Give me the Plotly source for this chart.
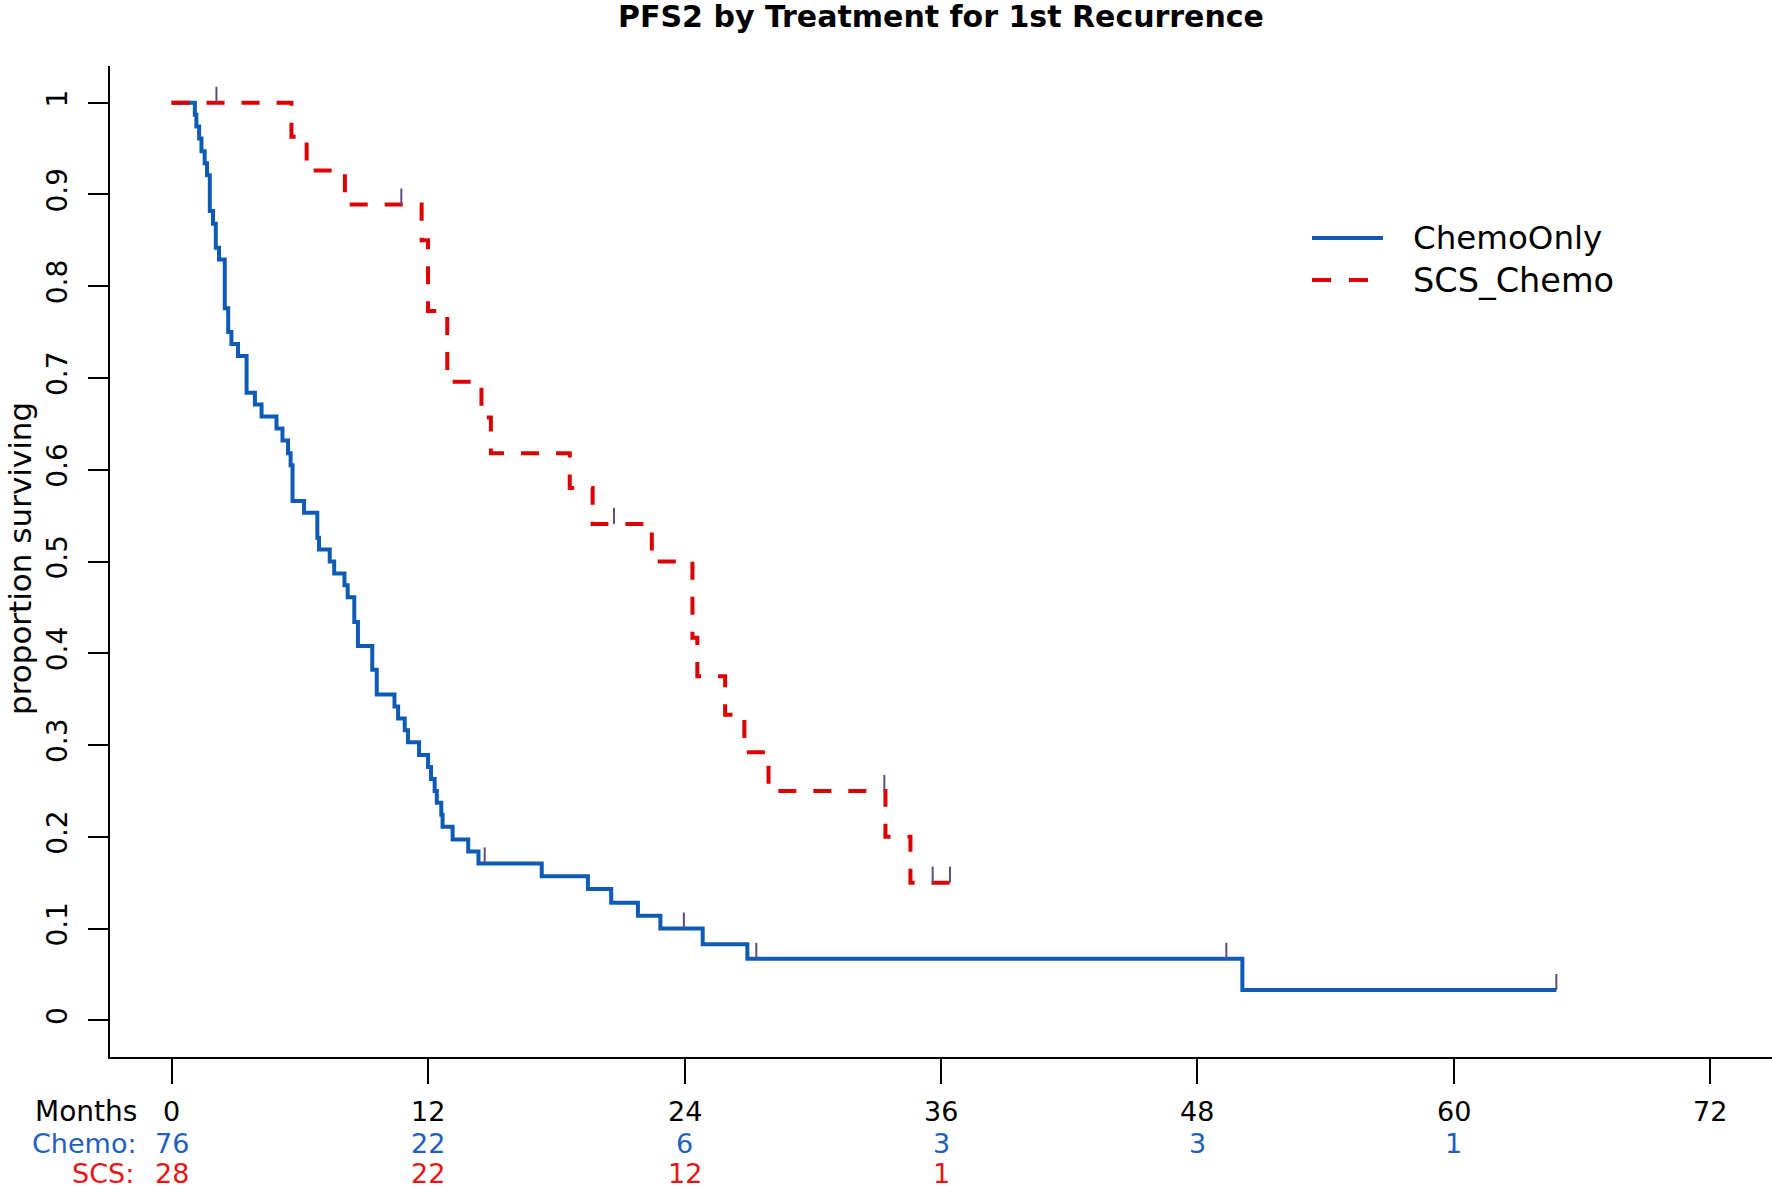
import plotly.graph_objects as go

# ---------------- data ----------------
# Kaplan-Meier steps: time (months) of each drop and survival level after it
CHEMO_T = [0, 1.09, 1.16, 1.29, 1.40, 1.55, 1.66, 1.79, 1.94, 2.07, 2.22, 2.49, 2.65,
           2.80, 3.11, 3.51, 3.90, 4.21, 4.91, 5.19, 5.45, 5.57, 5.66, 6.20, 6.82,
           6.90, 7.40, 7.61, 8.09, 8.24, 8.55, 8.72, 9.39, 9.60, 10.43, 10.60, 10.91,
           11.06, 11.58, 12.00, 12.14, 12.31, 12.41, 12.62, 12.68, 13.15, 13.88,
           14.36, 17.32, 19.48, 20.57, 21.82, 22.87, 24.85, 26.94, 50.10, 64.79]
CHEMO_S = [1.0, 0.987, 0.974, 0.961, 0.947, 0.934, 0.921, 0.882, 0.868, 0.842, 0.829,
           0.776, 0.750, 0.737, 0.724, 0.684, 0.671, 0.658, 0.645, 0.632, 0.618, 0.605,
           0.566, 0.553, 0.526, 0.513, 0.500, 0.487, 0.474, 0.461, 0.434, 0.408, 0.382,
           0.355, 0.342, 0.329, 0.316, 0.303, 0.289, 0.276, 0.263, 0.250, 0.237, 0.224,
           0.211, 0.197, 0.184, 0.171, 0.157, 0.143, 0.128, 0.114, 0.100, 0.083, 0.067,
           0.033, 0.033]

SCS_T = [0, 5.61, 6.32, 8.11, 11.70, 12.00, 12.90, 14.50, 14.94, 18.63, 19.70, 22.47,
         24.37, 24.60, 25.90, 26.80, 27.93, 33.40, 34.57, 36.55]
SCS_S = [1.0, 0.963, 0.926, 0.889, 0.850, 0.773, 0.696, 0.657, 0.618, 0.580, 0.541,
         0.500, 0.417, 0.375, 0.333, 0.292, 0.250, 0.200, 0.150, 0.150]

# censoring marks
CHEMO_CENS_T = [14.65, 23.97, 27.36, 49.35, 64.79]
CHEMO_CENS_S = [0.171, 0.100, 0.067, 0.067, 0.033]
SCS_CENS_T = [2.10, 10.75, 20.70, 33.35, 35.61, 36.42]
SCS_CENS_S = [1.0, 0.889, 0.541, 0.250, 0.150, 0.150]

# axis ticks
X_TICKS = [0, 12, 24, 36, 48, 60, 72]
Y_TICKS = [0, 0.1, 0.2, 0.3, 0.4, 0.5, 0.6, 0.7, 0.8, 0.9, 1.0]
Y_LABELS = ["0", "0.1", "0.2", "0.3", "0.4", "0.5", "0.6", "0.7", "0.8", "0.9", "1"]

# number at risk table
RISK_CHEMO_T = [0, 12, 24, 36, 48, 60]
RISK_CHEMO_N = [76, 22, 6, 3, 3, 1]
RISK_SCS_T = [0, 12, 24, 36]
RISK_SCS_N = [28, 22, 12, 1]

SERIES_NAMES = ["ChemoOnly", "SCS_Chemo"]
TITLE = "PFS2 by Treatment for 1st Recurrence"
Y_TITLE = "proportion surviving"

# ---------------- styling ----------------
W, H = 1772, 1188
ML, MR, MT, MB = 110, 0, 66, 131
PW, PH = W - ML - MR, H - MT - MB
FONT = "DejaVu Sans"
BLUE = "#0d5bb5"
RED = "#dd0000"
BLUE_TXT = "#1f5fc0"
RED_TXT = "#e81515"
MARK_COL = "#5d4b85"
DASH = "18px,17px"
XR = [-2.88, 74.88]
YR = [-0.04, 1.04]
MARK_LEN = 16 / PH * (YR[1] - YR[0])


def px(x):
    return (x - ML) / PW


def py(y):
    return (H - MB - y) / PH


fig = go.Figure()
fig.add_trace(go.Scatter(x=CHEMO_T, y=CHEMO_S, mode="lines",
                         line=dict(shape="hv", color=BLUE, width=4),
                         name=SERIES_NAMES[0], showlegend=False, hoverinfo="skip"))
fig.add_trace(go.Scatter(x=SCS_T, y=SCS_S, mode="lines",
                         line=dict(shape="hv", color=RED, width=4, dash=DASH),
                         name=SERIES_NAMES[1], showlegend=False, hoverinfo="skip"))
for ct, cs in ((CHEMO_CENS_T, CHEMO_CENS_S), (SCS_CENS_T, SCS_CENS_S)):
    fig.add_trace(go.Scatter(
        x=ct, y=cs, mode="markers",
        marker=dict(size=1, color="rgba(0,0,0,0)"),
        error_y=dict(type="data", symmetric=False, array=[MARK_LEN] * len(ct),
                     arrayminus=[0] * len(ct), width=0, thickness=2, color=MARK_COL),
        showlegend=False, hoverinfo="skip"))

annotations = []
# title
annotations.append(dict(text="<b>%s</b>" % TITLE, x=0.5, y=py(16), xref="paper", yref="paper",
                        xanchor="center", yanchor="middle", showarrow=False,
                        font=dict(family=FONT, size=30, color="black")))
# y title
annotations.append(dict(text=Y_TITLE, x=px(20), y=py(559), xref="paper", yref="paper",
                        xanchor="center", yanchor="middle", textangle=-90, showarrow=False,
                        font=dict(family=FONT, size=31, color="black")))
# risk table
ROW_Y = [1111, 1143, 1173]
annotations.append(dict(text="Months", x=px(139), y=py(ROW_Y[0]), xref="paper", yref="paper",
                        xanchor="right", yanchor="middle", showarrow=False,
                        font=dict(family=FONT, size=28, color="black")))
annotations.append(dict(text="Chemo:", x=px(139), y=py(ROW_Y[1]), xref="paper", yref="paper",
                        xanchor="right", yanchor="middle", showarrow=False,
                        font=dict(family=FONT, size=27, color=BLUE_TXT)))
annotations.append(dict(text="SCS:", x=px(136), y=py(ROW_Y[2]), xref="paper", yref="paper",
                        xanchor="right", yanchor="middle", showarrow=False,
                        font=dict(family=FONT, size=27, color=RED_TXT)))
for t in X_TICKS:
    annotations.append(dict(text=str(t), x=t, y=py(ROW_Y[0]), xref="x", yref="paper",
                            xanchor="center", yanchor="middle", showarrow=False,
                            font=dict(family=FONT, size=27, color="black")))
for t, n in zip(RISK_CHEMO_T, RISK_CHEMO_N):
    annotations.append(dict(text=str(n), x=t, y=py(ROW_Y[1]), xref="x", yref="paper",
                            xanchor="center", yanchor="middle", showarrow=False,
                            font=dict(family=FONT, size=27, color=BLUE_TXT)))
for t, n in zip(RISK_SCS_T, RISK_SCS_N):
    annotations.append(dict(text=str(n), x=t, y=py(ROW_Y[2]), xref="x", yref="paper",
                            xanchor="center", yanchor="middle", showarrow=False,
                            font=dict(family=FONT, size=27, color=RED_TXT)))
# legend (drawn manually)
LEG_Y = [238, 280]
annotations.append(dict(text=SERIES_NAMES[0], x=px(1411), y=py(LEG_Y[0]), xref="paper",
                        yref="paper", xanchor="left", yanchor="middle", showarrow=False,
                        font=dict(family=FONT, size=32.5, color="black")))
annotations.append(dict(text=SERIES_NAMES[1], x=px(1411), y=py(LEG_Y[1]), xref="paper",
                        yref="paper", xanchor="left", yanchor="middle", showarrow=False,
                        font=dict(family=FONT, size=33.5, color="black")))
shapes = [
    dict(type="line", xref="paper", yref="paper", x0=px(1312), x1=px(1383),
         y0=py(LEG_Y[0]), y1=py(LEG_Y[0]), line=dict(color=BLUE, width=4)),
    dict(type="line", xref="paper", yref="paper", x0=px(1312), x1=px(1370),
         y0=py(LEG_Y[1]), y1=py(LEG_Y[1]), line=dict(color=RED, width=4, dash="19px,18px")),
]

fig.update_layout(
    width=W, height=H,
    margin=dict(l=ML, r=MR, t=MT, b=MB, pad=0),
    paper_bgcolor="white", plot_bgcolor="white",
    showlegend=False,
    annotations=annotations, shapes=shapes,
    font=dict(family=FONT, color="black"),
    xaxis=dict(range=XR, showgrid=False, zeroline=False, showline=True, linecolor="black",
               linewidth=2, ticks="outside", ticklen=25, tickwidth=2, tickcolor="black",
               tickvals=X_TICKS, showticklabels=False),
    yaxis=dict(range=YR, showgrid=False, zeroline=False, showline=True, linecolor="black",
               linewidth=2, ticks="outside", ticklen=20, tickwidth=2, tickcolor="black",
               tickvals=Y_TICKS, ticktext=Y_LABELS, tickangle=-90,
               tickfont=dict(family=FONT, size=28, color="black"), ticklabelstandoff=10),
)

fig.write_html("out.html",
               config={"displayModeBar": False},
               post_script="document.body.style.margin='0px';"
                           "document.body.style.overflow='hidden';")
